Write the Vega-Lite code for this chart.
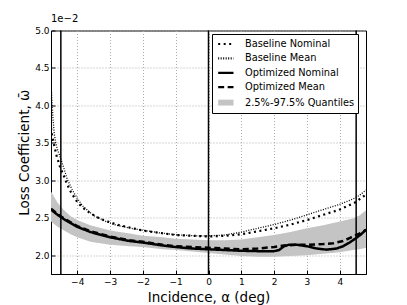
{
  "$schema": "https://vega.github.io/schema/vega-lite/v6.json",
  "autosize": "none",
  "width": 315,
  "height": 243.5,
  "padding": {"left": 51, "top": 30.5, "right": 41, "bottom": 31},
  "background": "white",
  "title": {"text": "1e−2", "anchor": "start", "frame": "group", "align": "left", "offset": 3, "fontSize": 10, "fontWeight": "normal", "font": "DejaVu Sans", "color": "black"},
  "datasets": {
    "curves": [
      {"s":"Baseline Nominal","x":-4.8,"y":3.70},{"s":"Baseline Nominal","x":-4.76,"y":3.58},{"s":"Baseline Nominal","x":-4.7,"y":3.46},{"s":"Baseline Nominal","x":-4.63,"y":3.33},{"s":"Baseline Nominal","x":-4.52,"y":3.17},{"s":"Baseline Nominal","x":-4.4,"y":3.05},{"s":"Baseline Nominal","x":-4.3,"y":2.94},{"s":"Baseline Nominal","x":-4.19,"y":2.84},{"s":"Baseline Nominal","x":-4.03,"y":2.73},{"s":"Baseline Nominal","x":-3.85,"y":2.64},{"s":"Baseline Nominal","x":-3.63,"y":2.57},{"s":"Baseline Nominal","x":-3.4,"y":2.51},{"s":"Baseline Nominal","x":-3.2,"y":2.47},{"s":"Baseline Nominal","x":-2.8,"y":2.41},{"s":"Baseline Nominal","x":-2.4,"y":2.37},{"s":"Baseline Nominal","x":-2.0,"y":2.33},{"s":"Baseline Nominal","x":-1.5,"y":2.30},{"s":"Baseline Nominal","x":-1.0,"y":2.27},{"s":"Baseline Nominal","x":-0.5,"y":2.26},{"s":"Baseline Nominal","x":0,"y":2.25},{"s":"Baseline Nominal","x":0.5,"y":2.26},{"s":"Baseline Nominal","x":1.0,"y":2.28},{"s":"Baseline Nominal","x":1.5,"y":2.32},{"s":"Baseline Nominal","x":2.0,"y":2.36},{"s":"Baseline Nominal","x":2.5,"y":2.41},{"s":"Baseline Nominal","x":3.0,"y":2.47},{"s":"Baseline Nominal","x":3.5,"y":2.54},{"s":"Baseline Nominal","x":4.0,"y":2.61},{"s":"Baseline Nominal","x":4.45,"y":2.70},{"s":"Baseline Nominal","x":4.8,"y":2.81},
      {"s":"Baseline Mean","x":-4.8,"y":4.31},{"s":"Baseline Mean","x":-4.77,"y":4.05},{"s":"Baseline Mean","x":-4.74,"y":3.82},{"s":"Baseline Mean","x":-4.7,"y":3.62},{"s":"Baseline Mean","x":-4.65,"y":3.49},{"s":"Baseline Mean","x":-4.6,"y":3.41},{"s":"Baseline Mean","x":-4.52,"y":3.31},{"s":"Baseline Mean","x":-4.4,"y":3.15},{"s":"Baseline Mean","x":-4.3,"y":3.01},{"s":"Baseline Mean","x":-4.15,"y":2.87},{"s":"Baseline Mean","x":-4.0,"y":2.76},{"s":"Baseline Mean","x":-3.84,"y":2.66},{"s":"Baseline Mean","x":-3.5,"y":2.53},{"s":"Baseline Mean","x":-3.12,"y":2.45},{"s":"Baseline Mean","x":-2.8,"y":2.40},{"s":"Baseline Mean","x":-2.47,"y":2.37},{"s":"Baseline Mean","x":-2.1,"y":2.34},{"s":"Baseline Mean","x":-1.5,"y":2.30},{"s":"Baseline Mean","x":-0.9,"y":2.27},{"s":"Baseline Mean","x":-0.4,"y":2.26},{"s":"Baseline Mean","x":0,"y":2.26},{"s":"Baseline Mean","x":0.5,"y":2.27},{"s":"Baseline Mean","x":1.0,"y":2.31},{"s":"Baseline Mean","x":1.5,"y":2.36},{"s":"Baseline Mean","x":2.0,"y":2.41},{"s":"Baseline Mean","x":2.5,"y":2.47},{"s":"Baseline Mean","x":3.0,"y":2.54},{"s":"Baseline Mean","x":3.5,"y":2.61},{"s":"Baseline Mean","x":4.0,"y":2.68},{"s":"Baseline Mean","x":4.4,"y":2.75},{"s":"Baseline Mean","x":4.6,"y":2.80},{"s":"Baseline Mean","x":4.8,"y":2.87},
      {"s":"Optimized Nominal","x":-4.8,"y":2.61},{"s":"Optimized Nominal","x":-4.6,"y":2.54},{"s":"Optimized Nominal","x":-4.4,"y":2.48},{"s":"Optimized Nominal","x":-4.2,"y":2.43},{"s":"Optimized Nominal","x":-4.0,"y":2.38},{"s":"Optimized Nominal","x":-3.6,"y":2.31},{"s":"Optimized Nominal","x":-3.0,"y":2.24},{"s":"Optimized Nominal","x":-2.4,"y":2.19},{"s":"Optimized Nominal","x":-2.0,"y":2.17},{"s":"Optimized Nominal","x":-1.4,"y":2.13},{"s":"Optimized Nominal","x":-1.0,"y":2.11},{"s":"Optimized Nominal","x":-0.5,"y":2.09},{"s":"Optimized Nominal","x":0,"y":2.08},{"s":"Optimized Nominal","x":0.5,"y":2.07},{"s":"Optimized Nominal","x":1.0,"y":2.06},{"s":"Optimized Nominal","x":1.5,"y":2.055},{"s":"Optimized Nominal","x":2.0,"y":2.055},{"s":"Optimized Nominal","x":2.15,"y":2.07},{"s":"Optimized Nominal","x":2.3,"y":2.12},{"s":"Optimized Nominal","x":2.45,"y":2.14},{"s":"Optimized Nominal","x":2.7,"y":2.14},{"s":"Optimized Nominal","x":3.0,"y":2.12},{"s":"Optimized Nominal","x":3.3,"y":2.09},{"s":"Optimized Nominal","x":3.6,"y":2.075},{"s":"Optimized Nominal","x":3.9,"y":2.09},{"s":"Optimized Nominal","x":4.1,"y":2.12},{"s":"Optimized Nominal","x":4.3,"y":2.17},{"s":"Optimized Nominal","x":4.5,"y":2.23},{"s":"Optimized Nominal","x":4.65,"y":2.28},{"s":"Optimized Nominal","x":4.8,"y":2.34},
      {"s":"Optimized Mean","x":-4.8,"y":2.62},{"s":"Optimized Mean","x":-4.6,"y":2.55},{"s":"Optimized Mean","x":-4.4,"y":2.49},{"s":"Optimized Mean","x":-4.2,"y":2.44},{"s":"Optimized Mean","x":-4.0,"y":2.39},{"s":"Optimized Mean","x":-3.6,"y":2.32},{"s":"Optimized Mean","x":-3.0,"y":2.25},{"s":"Optimized Mean","x":-2.4,"y":2.20},{"s":"Optimized Mean","x":-2.0,"y":2.18},{"s":"Optimized Mean","x":-1.4,"y":2.14},{"s":"Optimized Mean","x":-1.0,"y":2.12},{"s":"Optimized Mean","x":-0.5,"y":2.11},{"s":"Optimized Mean","x":0,"y":2.10},{"s":"Optimized Mean","x":0.5,"y":2.09},{"s":"Optimized Mean","x":1.0,"y":2.08},{"s":"Optimized Mean","x":1.5,"y":2.09},{"s":"Optimized Mean","x":2.0,"y":2.11},{"s":"Optimized Mean","x":2.3,"y":2.13},{"s":"Optimized Mean","x":2.7,"y":2.14},{"s":"Optimized Mean","x":3.0,"y":2.14},{"s":"Optimized Mean","x":3.5,"y":2.15},{"s":"Optimized Mean","x":3.8,"y":2.16},{"s":"Optimized Mean","x":4.1,"y":2.19},{"s":"Optimized Mean","x":4.3,"y":2.23},{"s":"Optimized Mean","x":4.5,"y":2.27},{"s":"Optimized Mean","x":4.65,"y":2.30},{"s":"Optimized Mean","x":4.8,"y":2.34}
    ],
    "band": [
      {"x":-4.8,"lo":2.45,"hi":2.85},{"x":-4.6,"lo":2.38,"hi":2.70},{"x":-4.4,"lo":2.33,"hi":2.60},{"x":-4.2,"lo":2.28,"hi":2.52},{"x":-4.0,"lo":2.24,"hi":2.47},{"x":-3.6,"lo":2.18,"hi":2.40},{"x":-3.0,"lo":2.14,"hi":2.33},{"x":-2.4,"lo":2.12,"hi":2.29},{"x":-2.0,"lo":2.11,"hi":2.26},{"x":-1.4,"lo":2.08,"hi":2.24},{"x":-1.0,"lo":2.07,"hi":2.22},{"x":-0.5,"lo":2.05,"hi":2.21},{"x":0,"lo":2.03,"hi":2.20},{"x":0.5,"lo":2.01,"hi":2.20},{"x":1.0,"lo":1.99,"hi":2.21},{"x":1.5,"lo":1.98,"hi":2.24},{"x":2.0,"lo":1.98,"hi":2.27},{"x":2.5,"lo":1.99,"hi":2.31},{"x":3.0,"lo":2.00,"hi":2.36},{"x":3.5,"lo":2.02,"hi":2.40},{"x":4.0,"lo":2.04,"hi":2.45},{"x":4.4,"lo":2.07,"hi":2.49},{"x":4.6,"lo":2.08,"hi":2.53},{"x":4.8,"lo":2.10,"hi":2.60}
    ],
    "vlines": [{"x": -4.5}, {"x": 0}, {"x": 4.5}]
  },
  "encoding": {
    "x": {"field": "x", "type": "quantitative",
      "scale": {"domain": [-4.8, 4.8], "nice": false, "zero": false},
      "axis": {"title": "Incidence, α (deg)", "values": [-4,-3,-2,-1,0,1,2,3,4], "format": "d",
        "labelExpr": "replace(datum.label, '-', '−')", "grid": true, "tickSize": -4, "labelPadding": 7, "titlePadding": 4}}
  },
  "layer": [
    {
      "data": {"name": "band"},
      "mark": {"type": "area", "color": "#c4c4c4", "opacity": 1, "clip": true},
      "encoding": {
        "y": {"field": "lo", "type": "quantitative",
          "scale": {"domain": [1.75, 5.0], "nice": false, "zero": false},
          "axis": {"title": "Loss Coefficient, ω̄", "values": [2.0,2.5,3.0,3.5,4.0,4.5,5.0], "format": ".1f", "grid": true, "tickSize": -4, "labelPadding": 6, "titlePadding": 3}},
        "y2": {"field": "hi"}
      }
    },
    {
      "data": {"name": "curves"},
      "transform": [{"filter": "datum.s === 'Baseline Nominal'"}],
      "mark": {"type": "line", "color": "black", "strokeWidth": 2.2, "clip": true},
      "encoding": {
        "y": {"field": "y", "type": "quantitative"},
        "strokeDash": {"field": "s", "type": "nominal",
          "legend": {"symbolType": {"expr": "datum.value === '2.5%-97.5% Quantiles' ? 'M-0.65,-0.5H1.95V0.5H-0.65Z' : 'M-0.65,0H1.95'"},
                     "symbolFillColor": {"expr": "datum.value === '2.5%-97.5% Quantiles' ? '#c4c4c4' : 'transparent'"},
                     "symbolStrokeColor": {"expr": "datum.value === '2.5%-97.5% Quantiles' ? 'transparent' : 'black'"}}}
      }
    },
    {
      "data": {"name": "curves"},
      "transform": [{"filter": "datum.s === 'Baseline Mean'"}],
      "mark": {"type": "line", "color": "black", "strokeWidth": 1.3, "clip": true},
      "encoding": {
        "y": {"field": "y", "type": "quantitative"},
        "strokeDash": {"field": "s", "type": "nominal",
          "legend": {"symbolType": {"expr": "datum.value === '2.5%-97.5% Quantiles' ? 'M-0.65,-0.5H1.95V0.5H-0.65Z' : 'M-0.65,0H1.95'"},
                     "symbolFillColor": {"expr": "datum.value === '2.5%-97.5% Quantiles' ? '#c4c4c4' : 'transparent'"},
                     "symbolStrokeColor": {"expr": "datum.value === '2.5%-97.5% Quantiles' ? 'transparent' : 'black'"}}}
      }
    },
    {
      "data": {"name": "curves"},
      "transform": [{"filter": "datum.s === 'Optimized Nominal'"}],
      "mark": {"type": "line", "color": "black", "strokeWidth": 2.5, "clip": true},
      "encoding": {
        "y": {"field": "y", "type": "quantitative"},
        "strokeDash": {"field": "s", "type": "nominal",
          "legend": {"symbolType": {"expr": "datum.value === '2.5%-97.5% Quantiles' ? 'M-0.65,-0.5H1.95V0.5H-0.65Z' : 'M-0.65,0H1.95'"},
                     "symbolFillColor": {"expr": "datum.value === '2.5%-97.5% Quantiles' ? '#c4c4c4' : 'transparent'"},
                     "symbolStrokeColor": {"expr": "datum.value === '2.5%-97.5% Quantiles' ? 'transparent' : 'black'"}}}
      }
    },
    {
      "data": {"name": "curves"},
      "transform": [{"filter": "datum.s === 'Optimized Mean'"}],
      "mark": {"type": "line", "color": "black", "strokeWidth": 2.5, "clip": true},
      "encoding": {
        "y": {"field": "y", "type": "quantitative"},
        "strokeDash": {"field": "s", "type": "nominal",
          "scale": {"domain": ["Baseline Nominal","Baseline Mean","Optimized Nominal","Optimized Mean","2.5%-97.5% Quantiles"],
                    "range": [[2,3.5],[1,1.5],[1,0],[6,3.5],[1,0]]},
          "legend": {"symbolType": {"expr": "datum.value === '2.5%-97.5% Quantiles' ? 'M-0.65,-0.5H1.95V0.5H-0.65Z' : 'M-0.65,0H1.95'"},
                     "symbolFillColor": {"expr": "datum.value === '2.5%-97.5% Quantiles' ? '#c4c4c4' : 'transparent'"},
                     "symbolStrokeColor": {"expr": "datum.value === '2.5%-97.5% Quantiles' ? 'transparent' : 'black'"}}}
      }
    },
    {
      "data": {"name": "vlines"},
      "mark": {"type": "rule", "color": "black", "strokeWidth": 1.5},
      "encoding": {}
    }
  ],
  "config": {
    "view": {"stroke": "black", "strokeWidth": 1},
    "axis": {"domainColor": "black", "tickColor": "black", "labelFont": "DejaVu Sans", "labelFontSize": 9, "labelColor": "black",
      "titleFont": "DejaVu Sans", "titleFontSize": 13.5, "titleFontWeight": "normal", "titleColor": "black",
      "gridColor": "#aaaaaa", "gridDash": [1, 2], "gridWidth": 1},
    "legend": {"title": null, "orient": "none", "legendX": 161, "legendY": 3.5,
      "symbolSize": 139, "symbolStrokeWidth": 2.2, "labelFont": "DejaVu Sans", "labelFontSize": 9.8, "labelColor": "black",
      "strokeColor": "black", "fillColor": "white", "padding": 3, "rowPadding": 2.4, "labelOffset": 16, "cornerRadius": 0}
  }
}
